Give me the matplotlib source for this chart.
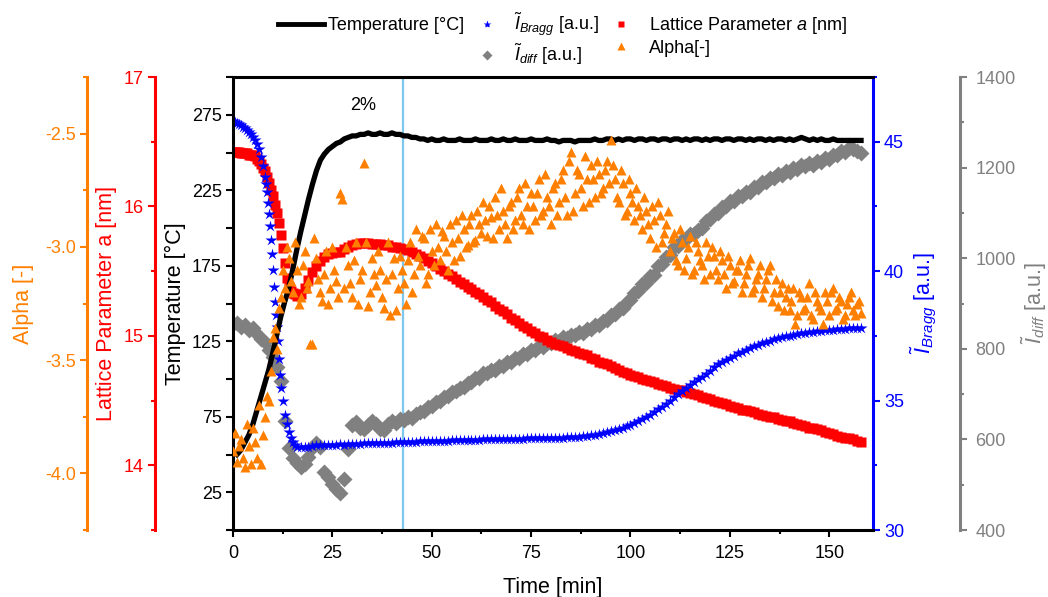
import numpy as np
import matplotlib
matplotlib.use("Agg")
import matplotlib.pyplot as plt
from matplotlib.ticker import MultipleLocator, FixedLocator
from matplotlib.lines import Line2D

# ---- data ----
temp_time = np.arange(1, 159)
temp = [50, 53, 58, 63, 70, 79, 88, 97, 106, 117, 129, 141, 151, 160, 172, 185, 197, 208, 219, 229,
        238, 245, 249, 252, 254, 256, 257, 259, 260, 261, 261, 262, 262, 263, 262, 262, 263, 262, 262, 263,
        262, 262, 261, 261, 260, 260, 259, 259, 258, 259, 258, 258, 259, 258, 258, 258, 259, 258, 258, 258,
        259, 258, 258, 258, 259, 258, 258, 259, 258, 258, 259, 258, 258, 258, 259, 258, 258, 258, 259, 258,
        258, 257, 258, 258, 258, 257, 258, 258, 258, 258, 259, 258, 258, 259, 259, 258, 259, 258, 259, 259,
        258, 259, 259, 258, 259, 259, 258, 259, 259, 258, 259, 259, 258, 259, 258, 259, 259, 258, 259, 258,
        259, 259, 258, 259, 259, 258, 259, 259, 258, 259, 258, 259, 259, 258, 259, 258, 259, 259, 258, 259,
        258, 259, 260, 259, 258, 259, 258, 259, 258, 258, 259, 258, 258, 258, 258, 258, 258, 258]

bragg_time = [0, 0.5, 1, 1.5, 2, 2.5, 3, 3.5, 4, 4.5, 5, 5.5, 6, 6.5, 7, 7.5, 8,
              8.25, 8.5, 8.75, 9, 9.25, 9.5, 9.75, 10, 10.25, 10.5, 10.75, 11, 11.25, 11.5, 11.75, 12,
              12.5, 13, 13.5, 14, 14.5, 15, 15.5, 16] + list(range(17, 159))
bragg = [45.80, 45.76, 45.72, 45.68, 45.63, 45.58, 45.52, 45.45, 45.37, 45.28, 45.18, 45.05, 44.90, 44.70,
         44.40, 44.05, 43.65,
         43.35, 43.05, 42.65, 42.20, 41.75, 41.20, 40.65, 40.05, 39.40, 38.80, 38.30, 37.85, 37.30, 36.60,
         36.00, 35.50,
         35.00, 34.45, 34.10, 33.80, 33.55, 33.40, 33.30, 33.22,
         33.20, 33.20, 33.22, 33.25, 33.27, 33.28, 33.28, 33.29, 33.30, 33.30,
         33.31, 33.30, 33.32, 33.33, 33.33, 33.34, 33.35, 33.35, 33.36, 33.36,
         33.37, 33.37, 33.38, 33.38, 33.39, 33.39, 33.40, 33.40, 33.41, 33.41,
         33.42, 33.42, 33.43, 33.43, 33.44, 33.44, 33.45, 33.45, 33.46, 33.46,
         33.47, 33.47, 33.48, 33.48, 33.49, 33.49, 33.50, 33.50, 33.50, 33.51,
         33.51, 33.52, 33.52, 33.52, 33.53, 33.53, 33.53, 33.54, 33.54, 33.54,
         33.55, 33.55, 33.55, 33.56, 33.56, 33.57, 33.57, 33.58, 33.59, 33.60,
         33.61, 33.62, 33.64, 33.66, 33.68, 33.71, 33.74, 33.78, 33.82, 33.86,
         33.90, 33.95, 34.00, 34.05, 34.12, 34.20, 34.28, 34.37, 34.46, 34.56,
         34.66, 34.77, 34.88, 35.00, 35.12, 35.24, 35.36, 35.48, 35.60, 35.71,
         35.82, 35.93, 36.04, 36.14, 36.31, 36.40, 36.49, 36.58, 36.66, 36.74,
         36.82, 36.89, 36.96, 37.03, 37.09, 37.15, 37.21, 37.26, 37.31, 37.36,
         37.40, 37.44, 37.48, 37.51, 37.54, 37.57, 37.60, 37.62, 37.64, 37.66,
         37.68, 37.70, 37.71, 37.72, 37.74, 37.75, 37.76, 37.78, 37.79, 37.80,
         37.81, 37.82]

lattice_time = [0, 0.5, 1, 1.5, 2, 2.5, 3, 3.5, 4, 4.5, 5, 5.5, 6, 6.5, 7, 7.5, 8, 8.5, 9, 9.5, 10,
                10.5, 11, 11.5, 12, 12.5, 13, 13.5, 14, 14.5, 15, 15.5, 16] + list(range(17, 159))
lattice = [16.42, 16.42, 16.42, 16.42, 16.41, 16.41, 16.41, 16.41, 16.40, 16.40, 16.40, 16.39, 16.37,
           16.35, 16.33, 16.30, 16.27, 16.23, 16.18, 16.13, 16.08, 16.01, 15.95, 15.87, 15.78, 15.68,
           15.56, 15.45, 15.38, 15.35, 15.33, 15.32, 15.31,
           15.32, 15.37, 15.43, 15.49, 15.54, 15.58, 15.61, 15.63, 15.64, 15.65,
           15.65, 15.67, 15.69, 15.70, 15.71, 15.72, 15.72, 15.72, 15.71, 15.71,
           15.71, 15.70, 15.70, 15.69, 15.69, 15.68, 15.67, 15.66, 15.65, 15.63,
           15.62, 15.60, 15.58, 15.56, 15.54, 15.52, 15.50, 15.48, 15.46, 15.44,
           15.42, 15.40, 15.38, 15.36, 15.34, 15.32, 15.30, 15.28, 15.26, 15.23,
           15.21, 15.19, 15.17, 15.14, 15.12, 15.10, 15.08, 15.06, 15.04, 15.02,
           15.00, 14.99, 14.97, 14.95, 14.94, 14.93, 14.92, 14.91, 14.89, 14.88,
           14.87, 14.86, 14.85, 14.83, 14.82, 14.80, 14.79, 14.78, 14.77, 14.75,
           14.74, 14.72, 14.71, 14.70, 14.69, 14.68, 14.67, 14.66, 14.65, 14.64,
           14.63, 14.62, 14.61, 14.60, 14.59, 14.58, 14.58, 14.57, 14.56, 14.55,
           14.54, 14.53, 14.52, 14.51, 14.50, 14.49, 14.48, 14.47, 14.46, 14.45,
           14.44, 14.43, 14.43, 14.42, 14.41, 14.40, 14.39, 14.38, 14.37, 14.37,
           14.36, 14.35, 14.34, 14.34, 14.33, 14.32, 14.31, 14.30, 14.29, 14.29,
           14.28, 14.27, 14.26, 14.25, 14.24, 14.23, 14.22, 14.21, 14.21, 14.20,
           14.19, 14.18]

diff_time = np.arange(0, 159)
diff = [855, 858, 848, 852, 842, 846, 832, 822, 814, 798, 782, 760, 728, 640, 582, 560, 548, 540, 546, 562,
        582, 592, 584, 528, 516, 502, 490, 481, 512, 578, 632, 638, 626, 622, 632, 640, 634, 624, 620, 634,
        640, 636, 644, 642, 650, 648, 656, 660, 662, 672, 674, 682, 684, 694, 696, 704, 706, 714, 716, 724,
        726, 735, 736, 746, 746, 754, 754, 762, 762, 770, 771, 779, 780, 788, 789, 798, 798, 806, 805, 813,
        812, 819, 818, 825, 824, 831, 830, 837, 836, 843, 844, 852, 853, 862, 864, 874, 876, 887, 890, 904,
        908, 924, 928, 943, 946, 960, 964, 982, 988, 1003, 1008, 1024, 1028, 1041, 1042, 1053, 1053, 1063,
        1067, 1082, 1086, 1098, 1099, 1112, 1115, 1127, 1127, 1137, 1137, 1147, 1146, 1157, 1157, 1168,
        1168, 1177, 1176, 1185, 1184, 1193, 1191, 1199, 1197, 1205, 1203, 1210, 1206, 1215, 1213, 1221,
        1219, 1228, 1227, 1236, 1235, 1243, 1240, 1236, 1232]

alpha_time = list(range(0, 159)) + [x + 0.5 for x in range(0, 158)]
alpha = [-3.90, -3.95, -3.85, -3.97, -3.88, -3.80, -3.93, -3.96, -3.75, -3.68,
         -3.40, -3.45, -3.22, -3.18, -3.05, -3.20, -3.10, -3.22, -3.02, -3.15,
         -3.43, -3.05, -3.20, -3.12, -3.25, -3.00, -3.15, -2.76, -3.18, -3.08,
         -3.22, -2.98, -3.14, -2.63, -3.26, -3.05, -3.17, -3.10, -3.27, -2.98,
         -3.12, -3.28, -3.04, -3.16, -3.06, -3.20, -2.92, -3.08, -2.96, -3.12,
         -3.02, -2.90, -3.06, -2.95, -3.10, -2.98, -2.88, -3.04, -2.92, -2.99,
         -2.86, -2.97, -2.90, -2.80, -2.95, -2.87, -2.78, -2.92, -2.84, -2.96,
         -2.80, -2.88, -2.74, -2.90, -2.82, -2.76, -2.88, -2.70, -2.84, -2.78,
         -2.90, -2.72, -2.80, -2.66, -2.86, -2.58, -2.76, -2.68, -2.82, -2.70,
         -2.64, -2.78, -2.68, -2.74, -2.62, -2.53, -2.70, -2.80, -2.72, -2.84,
         -2.76, -2.88, -2.82, -2.92, -2.84, -2.96, -2.88, -2.80, -2.98, -2.90,
         -3.02, -2.94, -3.08, -2.98, -3.05, -2.95, -3.10, -3.02, -3.08, -2.98,
         -3.12, -3.04, -3.14, -3.06, -3.18, -3.08, -3.15, -3.10, -3.20, -3.12,
         -3.05, -3.18, -3.12, -3.22, -3.14, -3.08, -3.20, -3.26, -3.16, -3.22,
         -3.28, -3.18, -3.30, -3.22, -3.27, -3.16, -3.32, -3.24, -3.28, -3.20,
         -3.30, -3.18, -3.27, -3.24, -3.30, -3.22, -3.28, -3.25, -3.29,
         # second batch, half-minute offsets
         -3.82, -3.88, -3.93, -3.78, -3.96, -3.86, -3.70, -3.83, -3.66, -3.55,
         -3.36, -3.27, -3.10, -3.00, -3.15, -2.98, -3.25, -3.08, -3.18, -3.43,
         -2.96, -3.14, -3.24, -3.02, -3.18, -3.10, -3.22, -2.79, -3.00, -3.16,
         -3.06, -3.25, -3.10, -2.98, -3.20, -3.12, -3.02, -3.22, -3.14, -3.30,
         -3.05, -3.18, -3.10, -3.25, -2.98, -3.12, -3.04, -2.95, -3.16, -2.92,
         -3.08, -3.00, -2.93, -3.02, -2.90, -3.06, -2.96, -2.86, -3.00, -2.90,
         -2.98, -2.84, -2.94, -2.88, -2.82, -2.96, -2.86, -2.74, -2.90, -2.82,
         -2.92, -2.78, -2.86, -2.72, -2.92, -2.82, -2.76, -2.86, -2.68, -2.82,
         -2.74, -2.86, -2.70, -2.78, -2.62, -2.84, -2.66, -2.74, -2.60, -2.80,
         -2.70, -2.62, -2.76, -2.66, -2.72, -2.64, -2.78, -2.66, -2.86, -2.70,
         -2.80, -2.74, -2.86, -2.78, -2.90, -2.82, -3.00, -2.86, -2.94, -2.84,
         -2.96, -3.06, -2.92, -3.10, -3.00, -3.12, -2.98, -3.06, -3.14, -3.04,
         -3.00, -3.10, -3.02, -3.12, -3.04, -3.16, -3.10, -3.06, -3.16, -3.08,
         -3.20, -3.14, -3.08, -3.18, -3.10, -3.24, -3.14, -3.20, -3.28, -3.18,
         -3.24, -3.34, -3.20, -3.28, -3.22, -3.30, -3.20, -3.26, -3.34, -3.24,
         -3.20, -3.28, -3.22, -3.32, -3.25, -3.20, -3.30, -3.24]

marker_time = 42.7

# ---- style ----
plt.rcParams['font.family'] = ['Liberation Sans', 'DejaVu Sans']
plt.rcParams['mathtext.fontset'] = 'custom'
plt.rcParams['mathtext.rm'] = 'Liberation Sans'
plt.rcParams['mathtext.it'] = 'Liberation Sans:italic'
plt.rcParams['mathtext.bf'] = 'Liberation Sans:bold'
plt.rcParams['axes.unicode_minus'] = False

c_orange = '#FF8000'
c_red = '#FF0000'
c_blue = '#0000FF'
c_gray = '#808080'
lw_sp = 2.2

fig = plt.figure(figsize=(10.48, 5.97), dpi=100)
ax = fig.add_axes([0.2223, 0.1122, 0.6107, 0.7588])
ax_d = ax.twinx()
ax_r = ax.twinx()
ax_a = ax.twinx()
ax_b = ax.twinx()

ax_d.set_zorder(1)
ax_r.set_zorder(2)
ax_b.set_zorder(3)
ax.set_zorder(4)
ax_a.set_zorder(5)
ax.patch.set_visible(False)


def side_axis(a, side, pos, color, lo, hi, major, minor):
    for s in a.spines.values():
        s.set_visible(False)
    sp = a.spines[side]
    sp.set_visible(True)
    sp.set_position(('axes', pos))
    sp.set_color(color)
    sp.set_linewidth(lw_sp)
    a.yaxis.set_ticks_position(side)
    a.yaxis.set_label_position(side)
    a.set_ylim(lo, hi)
    a.yaxis.set_major_locator(MultipleLocator(major))
    a.yaxis.set_minor_locator(MultipleLocator(minor))
    a.tick_params(axis='y', which='major', colors=color, direction='out', length=5, width=1.5,
                  labelsize=13, pad=3)
    a.tick_params(axis='y', which='minor', colors=color, direction='out', length=3, width=1.5)


side_axis(ax_b, 'right', 1.0, c_blue, 30, 47.5, 5, 2.5)
side_axis(ax_d, 'right', 1.136, c_gray, 400, 1400, 200, 100)
side_axis(ax_r, 'left', -0.122, c_red, 13.5, 17, 1, 0.5)
side_axis(ax_a, 'left', -0.228, c_orange, -4.25, -2.25, 0.5, 0.25)
ax_d.tick_params(axis='y', which='major', pad=6)

# main axis
for s in ['left', 'bottom', 'top']:
    ax.spines[s].set_linewidth(lw_sp)
    ax.spines[s].set_color('black')
ax.spines['right'].set_visible(False)
ax.set_xlim(0, 161)
ax.set_ylim(0, 300)
ax.xaxis.set_major_locator(MultipleLocator(25))
ax.xaxis.set_minor_locator(MultipleLocator(12.5))
ax.yaxis.set_major_locator(FixedLocator([25, 75, 125, 175, 225, 275]))
ax.yaxis.set_minor_locator(FixedLocator([0, 50, 100, 150, 200, 250, 300]))
ax.tick_params(axis='both', which='major', direction='out', length=5, width=1.5, labelsize=13)
ax.tick_params(axis='x', which='minor', direction='out', length=3, width=1.5)
ax.tick_params(axis='y', which='minor', direction='out', length=5, width=1.5)
ax.tick_params(axis='x', pad=6)
ax.tick_params(axis='y', pad=3)

# data
ax_d.axvline(marker_time, color='#7EC8EE', lw=1.6)
ax_d.plot(diff_time, diff, 'D', color=c_gray, ms=8.5, mec='none')
ax_r.plot(lattice_time, lattice, 's', color=c_red, ms=6.5, mec='none')
ax_b.plot(bragg_time, bragg, '*', color=c_blue, ms=9, mec='none')
ax.plot(temp_time, temp, '-', color='black', lw=3.8)
ax_a.plot(alpha_time, alpha, '^', color=c_orange, ms=6.8, mec='none')

ax.text(32.7, 281, '2%', ha='center', va='center', fontsize=13)

# labels
ax.set_xlabel('Time [min]', fontsize=15.5)
ax.set_ylabel('Temperature [°C]', fontsize=15.5)
ax_r.set_ylabel('Lattice Parameter a [nm]', fontsize=15.5, color=c_red)
ax_a.set_ylabel('Alpha [-]', fontsize=15.5, color=c_orange)
ax_b.set_ylabel(r'$\tilde{I}_{Bragg}$ [a.u.]', fontsize=15.5, color=c_blue)
ax_d.set_ylabel(r'$\tilde{I}_{diff}$ [a.u.]', fontsize=15.5, color=c_gray)

for a, x in [(ax, -0.0906), (ax_r, -0.197), (ax_a, -0.328), (ax_b, 1.08), (ax_d, 1.253)]:
    a.yaxis.set_label_coords(x, 0.5)
    a.yaxis.label.set_verticalalignment('center')
ax.xaxis.set_label_coords(0.5, -0.126)
ax.xaxis.label.set_verticalalignment('center')

# legend with compact marker handles
lg_t = Line2D([], [], color='black', lw=3.5)
lg_blank = Line2D([], [], linestyle='none')
lg_b = Line2D([], [], marker='*', linestyle='none', color=c_blue, ms=6, mec='none')
lg_d = Line2D([], [], marker='D', linestyle='none', color=c_gray, ms=5, mec='none')
lg_r = Line2D([], [], marker='s', linestyle='none', color=c_red, ms=5, mec='none')
lg_a = Line2D([], [], marker='^', linestyle='none', color=c_orange, ms=5.5, mec='none')
fig.legend([lg_t, lg_blank, lg_b, lg_d, lg_r, lg_a],
           ['Temperature [°C]', '', r'$\tilde{I}_{Bragg}$ [a.u.]', r'$\tilde{I}_{diff}$ [a.u.]',
            r'Lattice Parameter $a$ [nm]', 'Alpha[-]'],
           ncol=3, loc='upper left', bbox_to_anchor=(0.257, 0.997), frameon=False,
           fontsize=13, handlelength=2.5, handletextpad=0.25, columnspacing=0.0,
           labelspacing=0.18, borderpad=0)

fig.savefig('out.png', dpi=100, facecolor='white')
